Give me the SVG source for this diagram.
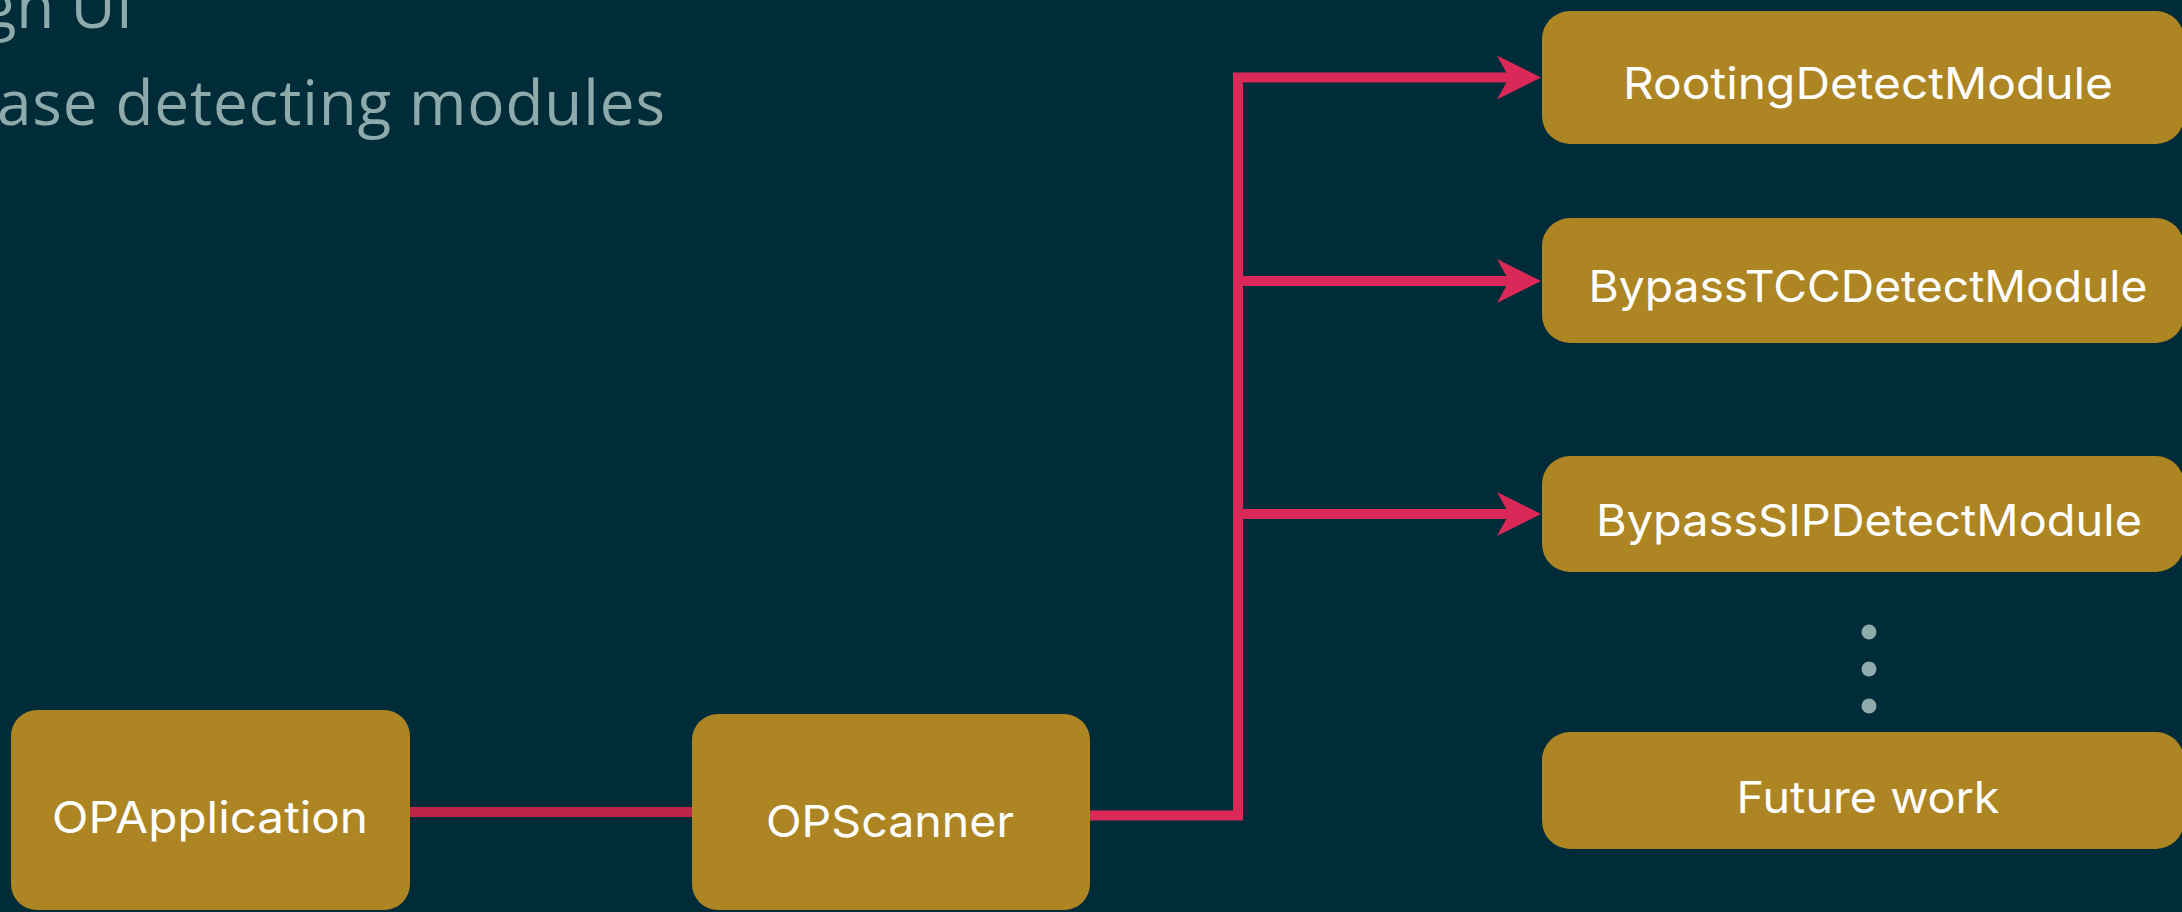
<svg xmlns="http://www.w3.org/2000/svg" width="2182" height="912" viewBox="0 0 2182 912">
  <style>
    .bg { fill: #002b38; }
    .box { fill: #ad8523; }
    .label { fill: #ffffff; font-family: "Inter", "Lato", "Liberation Sans", sans-serif; font-size: 44px; text-anchor: middle; }
    .title { fill: #8faaab; font-family: "Open Sans", "Noto Sans", "Liberation Sans", sans-serif; font-size: 62px; }
    .conn { fill: none; stroke: #da2858; stroke-width: 10; stroke-linejoin: miter; stroke-linecap: butt; }
    .dot { fill: #8faaab; }
  </style>
  <defs>
    <marker id="arrow" markerUnits="userSpaceOnUse" markerWidth="44" markerHeight="44" refX="12" refY="22" orient="auto" viewBox="0 0 44 44">
      <path d="M0,0 L44,22 L0,44 L12,22 Z" fill="#da2858"/>
    </marker>
  </defs>

  <rect class="bg" x="0" y="0" width="2182" height="912"/>

  <g id="title">
    <text class="title" x="133" y="28" text-anchor="end">gn UI</text>
    <text class="title" x="-3" y="125" textLength="668" lengthAdjust="spacing">ase detecting modules</text>
  </g>

  <g id="connectors">
    <path class="conn" d="M410,812 L703,812" style="stroke:#be2449"/>
    <rect x="692" y="807" width="11" height="10" fill="#e07b30"/>
    <path class="conn" d="M1090,815.5 L1238,815.5 L1238,77.5 L1509,77.5" marker-end="url(#arrow)"/>
    <path class="conn" d="M1238,281 L1509,281" marker-end="url(#arrow)"/>
    <path class="conn" d="M1238,514 L1509,514" marker-end="url(#arrow)"/>
  </g>

  <g id="node-opapplication">
    <rect class="box" x="11" y="710" width="399" height="200" rx="26"/>
    <text class="label" x="210" y="833" textLength="316" lengthAdjust="spacingAndGlyphs">OPApplication</text>
  </g>

  <g id="node-opscanner">
    <rect class="box" x="692" y="714" width="398" height="196" rx="26"/>
    <text class="label" x="890" y="837" textLength="248" lengthAdjust="spacingAndGlyphs">OPScanner</text>
  </g>

  <g id="node-rooting">
    <rect class="box" x="1542" y="11" width="642" height="133" rx="28"/>
    <text class="label" x="1868" y="99" textLength="490" lengthAdjust="spacingAndGlyphs">RootingDetectModule</text>
  </g>

  <g id="node-bypasstcc">
    <rect class="box" x="1542" y="218" width="642" height="125" rx="28"/>
    <text class="label" x="1868" y="302" textLength="559" lengthAdjust="spacingAndGlyphs">BypassTCCDetectModule</text>
  </g>

  <g id="node-bypasssip">
    <rect class="box" x="1542" y="456" width="642" height="116" rx="28"/>
    <text class="label" x="1869" y="536" textLength="546" lengthAdjust="spacingAndGlyphs">BypassSIPDetectModule</text>
  </g>

  <g id="ellipsis">
    <circle class="dot" cx="1869" cy="632" r="7.5"/>
    <circle class="dot" cx="1869" cy="669" r="7.5"/>
    <circle class="dot" cx="1869" cy="706" r="7.5"/>
  </g>

  <g id="node-future">
    <rect class="box" x="1542" y="732" width="642" height="117" rx="28"/>
    <text class="label" x="1868" y="813" textLength="263" lengthAdjust="spacingAndGlyphs">Future work</text>
  </g>
</svg>
